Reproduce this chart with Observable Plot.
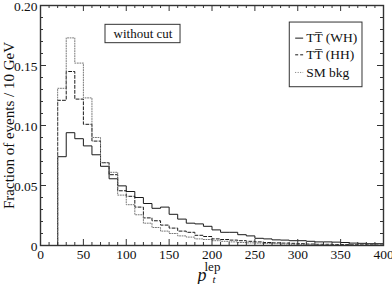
<!DOCTYPE html>
<html><head><meta charset="utf-8">
<script src="https://cdn.jsdelivr.net/npm/d3@7"></script>
<script src="https://cdn.jsdelivr.net/npm/@observablehq/plot@0.6"></script>
<style>body{margin:0;background:#fff} svg text{font-family:'Liberation Serif',serif}</style>
</head><body><div id="chart"></div>
<script>
// ---- data ----
const binStart = [20,30,40,50,60,70,80,90,100,110,120,130,140,150,160,170,180,190,200,210,220,230,240,250,260,270,280,290,300,310,320,330,340,350,360,370,380,390];
const whValues = [0.074,0.094,0.089,0.083,0.0756,0.066,0.0556,0.0497,0.045,0.040,0.035,0.031,0.032,0.026,0.022,0.0186,0.018,0.016,0.013,0.011,0.011,0.009,0.008,0.006,0.0055,0.0047,0.0045,0.004,0.004,0.0035,0.003,0.003,0.0028,0.0025,0.002,0.0018,0.0015,0.0015];
const hhValues = [0.121,0.145,0.122,0.101,0.087,0.069,0.059,0.0456,0.041,0.032,0.023,0.0206,0.017,0.0145,0.012,0.011,0.0085,0.0075,0.0055,0.005,0.0045,0.004,0.0035,0.003,0.0025,0.0022,0.002,0.0018,0.0015,0.0012,0.001,0.001,0.0008,0.0008,0.0006,0.0005,0.0005,0.0004];
const smValues = [0.131,0.173,0.152,0.123,0.090,0.069,0.061,0.042,0.034,0.0256,0.0186,0.015,0.012,0.010,0.008,0.007,0.0055,0.005,0.004,0.0035,0.003,0.0025,0.0022,0.002,0.0017,0.0015,0.0012,0.001,0.0008,0.0007,0.0006,0.0005,0.0005,0.0004,0.0003,0.0003,0.0002,0.0002];
const binWidth = 10;
const seriesNames = ["TT\u0305 (WH)", "TT\u0305 (HH)", "SM bkg"];
const xTickValues = [0,50,100,150,200,250,300,350,400];
const xTickLabels = ["0","50","100","150","200","250","300","350","400"];
const yTickValues = [0,0.05,0.10,0.15,0.20];
const yTickLabels = ["0","0.05","0.10","0.15","0.20"];
const xMinor = d3.range(0, 401, 10);
const yMinor = d3.range(0, 21).map(i => i / 100);
const yLabel = "Fraction of events / 10 GeV";
const boxText = "without cut";

// ---- layout ----
const W = 392, H = 284;
const mL = 40, mR = 9, mT = 5, mB = 39;
const pw = W - mL - mR, ph = H - mT - mB;
const font = "'Liberation Serif', serif";

const styles = [
  {stroke: "#1a1a1a", dash: null, width: 1},
  {stroke: "#1a1a1a", dash: "3,2", width: 1},
  {stroke: "#777", dash: "1,1.5", width: 1}
];
const allValues = [whValues, hhValues, smValues];

function stepPoints(vals) {
  const pts = [{x: binStart[0], y: 0}];
  vals.forEach((v, i) => pts.push({x: binStart[i], y: v}));
  pts.push({x: binStart[binStart.length - 1] + binWidth, y: vals[vals.length - 1]});
  return pts;
}

const marks = [];
allValues.forEach((vals, k) => {
  marks.push(Plot.line(stepPoints(vals), {x: "x", y: "y", curve: "step-after",
    stroke: styles[k].stroke, strokeWidth: styles[k].width, strokeDasharray: styles[k].dash}));
});
const majX = xTickValues, majY = yTickValues;
const minX = xMinor.filter(d => !majX.includes(d));
const minY = yMinor.filter(d => !majY.some(m => Math.abs(m - d) < 1e-9));
const tk = {stroke: "#333", strokeWidth: 1};
marks.push(Plot.tickX(majX, {x: d => d, insetTop: ph - 6, ...tk}));
marks.push(Plot.tickX(majX, {x: d => d, insetBottom: ph - 6, ...tk}));
marks.push(Plot.tickX(minX, {x: d => d, insetTop: ph - 3, ...tk}));
marks.push(Plot.tickX(minX, {x: d => d, insetBottom: ph - 3, ...tk}));
marks.push(Plot.tickY(majY, {y: d => d, insetRight: pw - 6, ...tk}));
marks.push(Plot.tickY(majY, {y: d => d, insetLeft: pw - 6, ...tk}));
marks.push(Plot.tickY(minY, {y: d => d, insetRight: pw - 3, ...tk}));
marks.push(Plot.tickY(minY, {y: d => d, insetLeft: pw - 3, ...tk}));
marks.push(Plot.frame({stroke: "#333", strokeWidth: 1.4}));

marks.push(Plot.axisX({ticks: xTickValues, tickFormat: d => xTickLabels[xTickValues.indexOf(d)], tickSize: 0, tickPadding: 4, fontSize: 13.5, fill: "#111", label: null}));
marks.push(Plot.axisY({ticks: yTickValues, tickFormat: d => yTickLabels[yTickValues.findIndex(m => Math.abs(m - d) < 1e-9)], tickSize: 0, tickPadding: 3, dy: 1.5, fontSize: 13.5, fill: "#111", label: null}));
marks.push(Plot.text([yLabel], {text: d => d, frameAnchor: "left", textAnchor: "middle", rotate: -90, dx: -31, fontSize: 15, fill: "#111"}));
// x label p_t^lep
marks.push(Plot.text(["p"], {text: d => d, frameAnchor: "bottom", textAnchor: "start", lineAnchor: "bottom", dx: -14.5, dy: 35, fontSize: 18, fontStyle: "italic", fill: "#111"}));
marks.push(Plot.text(["t"], {text: d => d, frameAnchor: "bottom", textAnchor: "start", lineAnchor: "bottom", dx: 0.5, dy: 37.5, fontSize: 11, fontStyle: "italic", fill: "#111"}));
marks.push(Plot.text(["lep"], {text: d => d, frameAnchor: "bottom", textAnchor: "start", lineAnchor: "bottom", dx: -7.5, dy: 25, fontSize: 13, fill: "#111"}));

// "without cut" box
marks.push(Plot.rect([0], {x1: 75.8, x2: 163.3, y1: 0.1686, y2: 0.1839, fill: "white", stroke: "#333", strokeWidth: 1}));
marks.push(Plot.text([boxText], {x: 119.5, y: 0.1762, text: d => d, fontSize: 13, fill: "#111"}));

// legend box
marks.push(Plot.rect([0], {x1: 290.7, x2: 375.5, y1: 0.1319, y2: 0.1858, fill: "white", stroke: "#333", strokeWidth: 1}));
const legRowsY = [0.1728, 0.1589, 0.1442];
seriesNames.forEach((name, k) => {
  marks.push(Plot.link([0], {x1: 297.0, x2: 306.3, y1: legRowsY[k], y2: legRowsY[k],
    stroke: styles[k].stroke, strokeWidth: styles[k].width, strokeDasharray: styles[k].dash}));
  marks.push(Plot.text([name], {x: 309.8, y: legRowsY[k], text: d => d, textAnchor: "start", fontSize: 13.5, fill: "#111"}));
});

const chart = Plot.plot({
  width: W, height: H,
  marginLeft: mL, marginRight: mR, marginTop: mT, marginBottom: mB,
  style: {fontFamily: font, background: "white"},
  x: {domain: [0, 400], axis: null},
  y: {domain: [0, 0.2], axis: null},
  marks
});
document.getElementById("chart").appendChild(chart);
</script>
</body></html>
